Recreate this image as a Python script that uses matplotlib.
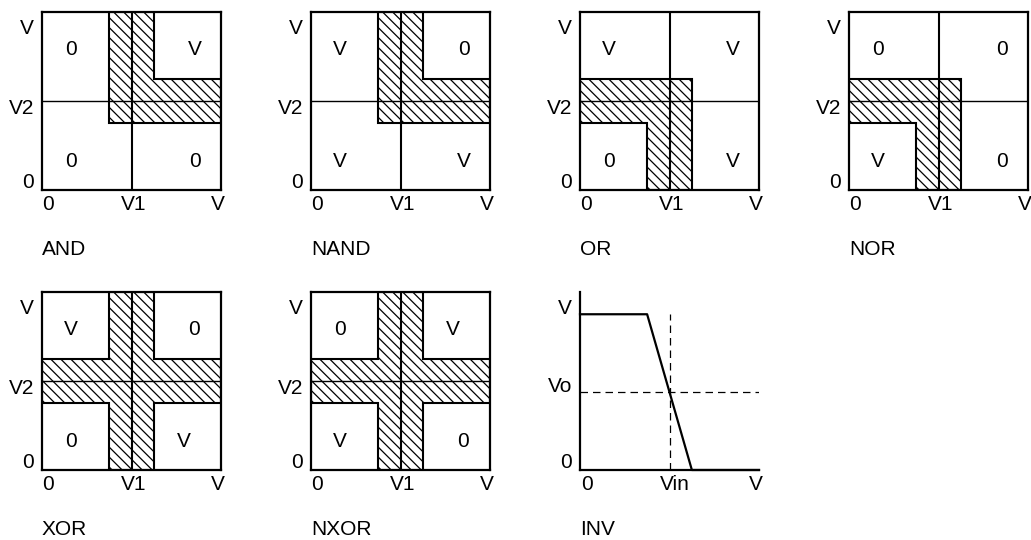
import numpy as np
import matplotlib.pyplot as plt
from matplotlib.patches import Polygon

plt.rcParams['font.family'] = ['Liberation Sans', 'DejaVu Sans']

# gate names and the output level in each quadrant (top-left, top-right, bottom-left, bottom-right)
gates = ['AND', 'NAND', 'OR', 'NOR', 'XOR', 'NXOR']
cells = [['0', 'V', '0', '0'],
         ['V', '0', 'V', 'V'],
         ['V', 'V', '0', 'V'],
         ['0', '0', 'V', '0'],
         ['V', '0', '0', 'V'],
         ['0', 'V', 'V', '0']]
# shape of the transition zone for each gate
zones = ['upper', 'upper', 'lower', 'lower', 'cross', 'cross']

# thresholds and half-width of the transition band (fraction of V)
v1 = 0.5
v2 = 0.5
band = 0.125

# inverter transfer curve
inv_x = [0, 0.375, 0.625, 1]
inv_y = [0.875, 0.875, 0, 0]
vin = 0.5
vo = 0.4375

fs = 15


def zone_polygon(kind):
    a, b = v1 - band, v1 + band
    c, d = v2 - band, v2 + band
    if kind == 'upper':
        return [(a, c), (1, c), (1, d), (b, d), (b, 1), (a, 1)]
    if kind == 'lower':
        return [(0, c), (a, c), (a, 0), (b, 0), (b, d), (0, d)]
    return [(a, 0), (b, 0), (b, c), (1, c), (1, d), (b, d),
            (b, 1), (a, 1), (a, d), (0, d), (0, c), (a, c)]


def hatch_zone(ax, verts, step=0.056):
    # outline of the zone, then "\" lines clipped to it
    poly = Polygon(verts, closed=True, fill=False, edgecolor='black',
                   linewidth=1.5, zorder=2)
    ax.add_patch(poly)
    for t in np.arange(-1.0, 1.0 + step, step):
        ln, = ax.plot([t, t + 1], [1, 0], color='black', linewidth=0.9, zorder=1)
        ln.set_clip_path(poly)


def axis_labels(ax, ylabels, xlabels, name):
    for y, t in ylabels:
        ax.text(-0.045, y, t, ha='right', va='center', fontsize=fs, transform=ax.transAxes)
    for x, t in xlabels:
        ax.text(x, -0.084, t, ha='center', va='center', fontsize=fs, transform=ax.transAxes)
    ax.text(0.0, -0.337, name, ha='left', va='center', fontsize=fs, transform=ax.transAxes)


fig = plt.figure(figsize=(10.31, 5.4), dpi=100)
W, H = 1031, 540
lefts = [42, 311, 580, 849]
tops = [12, 292]
aw, ah = 179, 178


def make_axes(col, row):
    l = lefts[col] / W
    b = 1 - (tops[row] + ah) / H
    ax = fig.add_axes([l, b, aw / W, ah / H])
    ax.set_xlim(0, 1)
    ax.set_ylim(0, 1)
    ax.set_xticks([])
    ax.set_yticks([])
    return ax


for i, g in enumerate(gates):
    ax = make_axes(i % 4, i // 4)
    for s in ax.spines.values():
        s.set_linewidth(1.6)
    hatch_zone(ax, zone_polygon(zones[i]))
    ax.axvline(v1, color='black', linewidth=1.5, zorder=3)
    ax.axhline(v2, color='black', linewidth=1.0, zorder=3)
    right_x = 0.79 if zones[i] == 'cross' else 0.855
    pos = [(0.16, 0.79), (right_x, 0.79), (0.16, 0.16), (right_x, 0.16)]
    for (x, y), t in zip(pos, cells[i]):
        if zones[i] == 'cross' and t == '0':
            x = 0.16 if x < 0.5 else 0.85
        ax.text(x, y, t, ha='center', va='center', fontsize=fs, transform=ax.transAxes)
    axis_labels(ax, [(0.91, 'V'), (0.46, 'V2'), (0.04, '0')],
                [(0.034, '0'), (0.51, 'V1'), (0.985, 'V')], g)

# inverter
ax = make_axes(2, 1)
ax.spines['top'].set_visible(False)
ax.spines['right'].set_visible(False)
ax.spines['left'].set_linewidth(1.6)
ax.spines['bottom'].set_linewidth(1.6)
ax.plot(inv_x, inv_y, color='black', linewidth=1.6, clip_on=False)
ax.plot([vin, vin], [0, inv_y[0]], color='black', linewidth=0.9, linestyle=(0, (6, 4)))
ax.plot([0, 1], [vo, vo], color='black', linewidth=0.9, linestyle=(0, (6, 4)))
axis_labels(ax, [(0.91, 'V'), (0.47, 'Vo'), (0.04, '0')],
            [(0.04, '0'), (0.53, 'Vin'), (0.98, 'V')], 'INV')

fig.savefig('out.png', dpi=100)
